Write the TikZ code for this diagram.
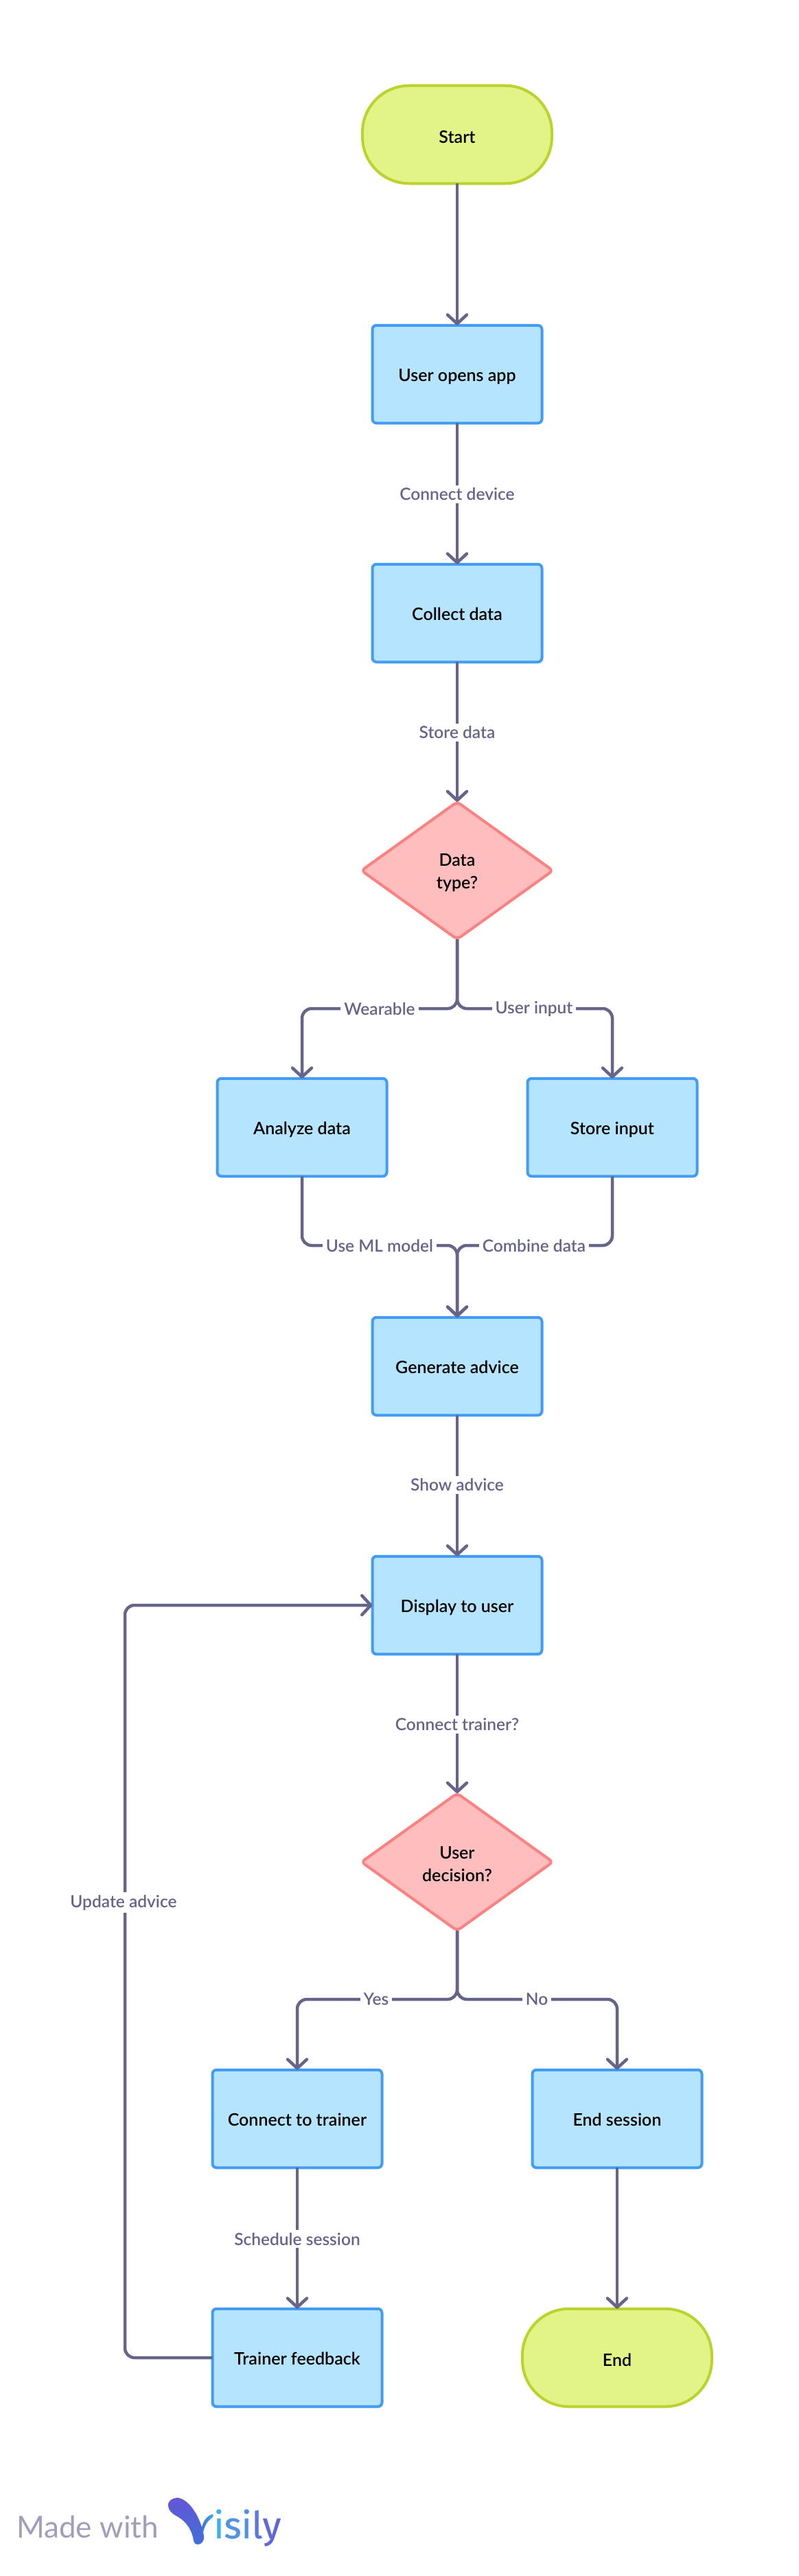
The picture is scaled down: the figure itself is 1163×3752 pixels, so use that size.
\documentclass[tikz,border=0pt]{standalone}
\usepackage{fontspec}
\setmainfont{Lato Semibold}
\newfontfamily\logofont{Fira Sans}[FakeBold=0.6]
\newfontfamily\madefont{Lato}
\usetikzlibrary{arrows.meta,shapes.geometric}
\definecolor{pillfill}{HTML}{E2F388}
\definecolor{pilldraw}{HTML}{BBD32C}
\definecolor{boxfill}{HTML}{B5E4FF}
\definecolor{boxdraw}{HTML}{429BF5}
\definecolor{decfill}{HTML}{FFBDBD}
\definecolor{decdraw}{HTML}{FF8080}
\definecolor{linecol}{HTML}{67648A}
\definecolor{madecol}{HTML}{A19DBB}
\definecolor{logoa}{HTML}{6555D6}
\definecolor{logob}{HTML}{3F70D8}
\definecolor{logoc}{HTML}{3EB0EE}
\definecolor{logod}{HTML}{5290E6}
\tikzset{
  flowbox/.style={draw=boxdraw,fill=boxfill,line width=4pt,rounded corners=6pt,minimum width=247pt,minimum height=142.5pt,inner sep=0pt,outer sep=0pt,text height=23pt,text depth=3pt,font=\fontsize{25}{33}\selectfont,text=black},
  pill/.style={draw=pilldraw,fill=pillfill,line width=4pt,rounded corners=68pt,minimum width=276pt,minimum height=142.5pt,inner sep=0pt,outer sep=0pt,text height=26pt,text depth=2pt,font=\fontsize{25}{33}\selectfont,text=black},
  decision/.style={diamond,draw=decdraw,fill=decfill,line width=4pt,rounded corners=6pt,minimum width=279pt,minimum height=200pt,inner sep=0pt,outer sep=0pt},
  dectext/.style={inner sep=0pt,align=center,font=\fontsize{25}{33}\selectfont,text=black},
  conn/.style={draw=linecol,line width=4.5pt,rounded corners=14pt,line join=round,-{Straight Barb[length=13pt,width=28pt,round]}},
  edgelabel/.style={fill=white,text=linecol,inner xsep=5pt,inner ysep=4pt,font=\fontsize{24.5}{28}\selectfont}
}
\begin{document}
\begin{tikzpicture}[x=1pt,y=-1pt]
\useasboundingbox[fill=white] (0,0) rectangle (1163,3752);
\node[pill] (start) at (666,196) {Start};
\node[flowbox] (open) at (666,545) {User opens app};
\node[flowbox] (collect) at (666,893) {Collect data};
\node[decision] (dtype) at (666,1268) {};
\node[dectext] (dtypet) at (666,1271) {Data\\type?};
\node[flowbox] (analyze) at (440,1642) {Analyze data};
\node[flowbox] (store) at (892,1642) {Store input};
\node[flowbox] (generate) at (666,1990) {Generate advice};
\node[flowbox] (display) at (666,2338) {Display to user};
\node[decision] (udec) at (666,2712) {};
\node[dectext] (udect) at (666,2715) {User\\decision?};
\node[flowbox] (trainer) at (433,3086) {Connect to trainer};
\node[flowbox] (endsess) at (899,3086) {End session};
\node[flowbox] (feedback) at (433,3434) {Trainer feedback};
\node[pill] (finish) at (899,3434) {End};
\coordinate (lvA) at (0,1469);
\coordinate (lvB) at (0,1814);
\coordinate (lvC) at (0,2912);
\coordinate (loop) at (182,0);
\draw[conn] (start.south) -- (open.north);
\draw[conn] (open.south) -- (collect.north);
\draw[conn] (collect.south) -- (dtype.north);
\draw[conn] (dtype.south) -- (dtype.south |- lvA) -- (analyze.north |- lvA) -- (analyze.north);
\draw[conn] (dtype.south) -- (dtype.south |- lvA) -- (store.north |- lvA) -- (store.north);
\draw[conn] (analyze.south) -- (analyze.south |- lvB) -- (generate.north |- lvB) -- (generate.north);
\draw[conn] (store.south) -- (store.south |- lvB) -- (generate.north |- lvB) -- (generate.north);
\draw[conn] (generate.south) -- (display.north);
\draw[conn] (display.south) -- (udec.north);
\draw[conn] (udec.south) -- (udec.south |- lvC) -- (trainer.north |- lvC) -- (trainer.north);
\draw[conn] (udec.south) -- (udec.south |- lvC) -- (endsess.north |- lvC) -- (endsess.north);
\draw[conn] (trainer.south) -- (feedback.north);
\draw[conn] (endsess.south) -- (finish.north);
\draw[conn] (feedback.west) -- (feedback.west -| loop) -- (display.west -| loop) -- (display.west);
\node[edgelabel] (l1) at (666,720) {Connect device};
\node[edgelabel] (l2) at (666,1067) {Store data};
\node[edgelabel] (l3) at (553,1470) {Wearable};
\node[edgelabel] (l4) at (778,1470) {User input};
\node[edgelabel] (l5) at (553,1815) {Use ML model};
\node[edgelabel] (l6) at (778,1815) {Combine data};
\node[edgelabel] (l7) at (666,2163) {Show advice};
\node[edgelabel] (l8) at (666,2512) {Connect trainer?};
\node[edgelabel] (l9) at (180,2771) {Update advice};
\node[edgelabel] (l10) at (548,2912) {Yes};
\node[edgelabel] (l11) at (782,2912) {No};
\node[edgelabel] (l12) at (433,3261) {Schedule session};
\node[anchor=base west,inner sep=0pt,text=madecol,font=\madefont\fontsize{44}{44}\selectfont] (made) at (24,3696) {Made with};
\shade[top color=logoa,bottom color=logob]
  (245,3650) .. controls (244,3642) and (252,3638) .. (259,3638) .. controls (275,3640) and (292,3665) .. (297,3693) .. controls (298,3702) and (293,3706) .. (288,3706) .. controls (283,3706) and (282,3702) .. (281,3695) .. controls (277,3680) and (268,3670) .. (256,3664) .. controls (250,3660) and (246,3657) .. (245,3650) -- cycle;
\shade[left color=logob,right color=logoc]
  (293,3687) .. controls (294,3675) and (300,3665) .. (309,3662) .. controls (312,3662) and (311,3666) .. (308,3668) .. controls (302,3672) and (297,3680) .. (295,3693) -- cycle;
\node[anchor=base west,inner sep=0pt,font=\logofont\fontsize{54}{54}\selectfont] (isily) at (311,3697) {\textcolor{logoc}{i}\textcolor{logod!90!logoc}{s}\textcolor{logod}{i}\textcolor{logod!60!logoa}{l}\textcolor{logod!30!logoa}{y}};
\end{tikzpicture}
\end{document}
